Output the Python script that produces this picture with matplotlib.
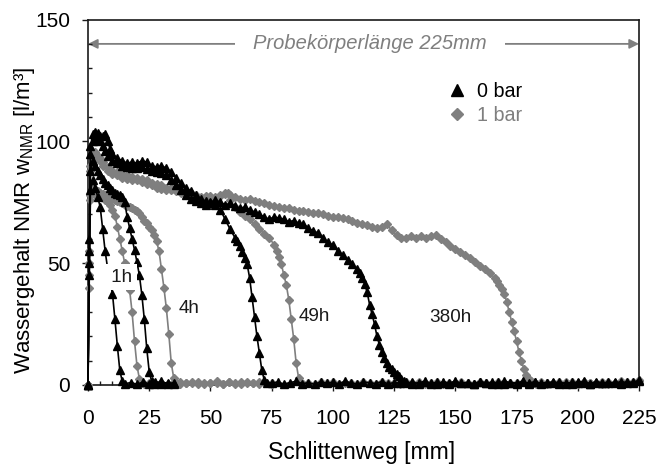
import numpy as np
import matplotlib
matplotlib.use("Agg")
import matplotlib.pyplot as plt
from matplotlib.lines import Line2D
from matplotlib.ticker import MultipleLocator

plt.rcParams['font.family'] = ['Liberation Sans', 'DejaVu Sans']

GRAU = '#7f7f7f'

# Messpositionen auf der Nulllinie (hinter der Feuchtefront) [mm]
x_null = [15, 17.5, 20, 22.5, 25, 27.5, 30, 32.5, 35, 37.5,
          40, 42.5, 45, 47.5, 50, 52.5, 55, 57.5, 60, 62.5,
          65, 67.5, 70, 72.5, 75, 77.5, 80, 82.5, 85, 87.5,
          90, 92.5, 95, 97.5, 100, 102.5, 105, 107.5, 110, 112.5,
          115, 117.5, 120, 122.5, 125, 127.5, 130, 132.5, 135, 137.5,
          140, 142.5, 145, 147.5, 150, 152.5, 155, 157.5, 160, 162.5,
          165, 167.5, 170, 172.5, 175, 177.5, 180, 182.5, 185, 187.5,
          190, 192.5, 195, 197.5, 200, 202.5, 205, 207.5, 210, 212.5,
          215, 217.5, 220, 222.5, 225]

# ---- 0 bar ----
x_0bar_1h = [0, 0.5, 1, 2, 3, 4, 5, 6, 7, 8, 9, 10, 11, 12, 13, 14, 15]
y_0bar_1h = [0, 45, 80, 84, 81, 77, 73, 64, 55, 48, 43, 37.5, 27, 16, 6, 1.5, 0.5]
n_0bar_1h = [1.0, 0.3, 1.2, 0.5, 0.8, 1.5, 0.4, 1.0]

x_0bar_4h = [0, 0.5, 1, 2, 3, 4, 5, 6, 7, 8, 9, 10, 11, 12, 13, 14, 15, 16, 17, 18,
             19, 20, 21, 22, 23, 24, 25, 26, 27]
y_0bar_4h = [0, 50, 88, 92, 90, 88, 86, 84.5, 83, 82, 81, 80, 79, 78.5, 78, 77, 75, 69,
             64.5, 60, 55.5, 50.5, 45, 37, 27, 15, 5.5, 1.5, 0.5]
n_0bar_4h = [1.2, 0.6, 1.0, 0.4]

x_0bar_49h = [0, 0.5, 1, 2, 3, 4, 5, 6, 7, 8, 10, 12, 14, 16, 18, 20, 22, 24, 26, 28,
              30, 32, 34, 36, 38, 40, 42, 44, 46, 48, 50, 52, 54, 56, 58, 60, 61, 62,
              63, 64, 65, 66, 67, 68, 69, 70, 71, 72, 73]
y_0bar_49h = [0, 55, 95, 100, 101.5, 100, 100.5, 98, 96, 94, 92, 91, 90, 89.5, 89, 89,
              89.5, 88.5, 88, 87.5, 87, 86, 84, 82, 80, 78, 76.5, 75.5, 74.5, 74, 74.5,
              74, 72, 68, 64, 60.5, 59, 57, 54.5, 52, 49.5, 44, 36, 28, 20, 13, 6, 2, 1]
n_0bar_49h = [0.8, 1.2, 0.4, 1.0, 1.5, 0.6, 0.9, 0.3, 1.3, 0.7,
              1.1, 0.5, 1.6, 0.8, 0.4, 1.2, 0.9, 0.6, 1.4, 0.5,
              1.0, 0.7, 1.3, 0.4, 0.9, 1.5, 0.6, 1.1, 0.8, 0.3,
              1.2, 0.7, 1.0, 0.5, 1.4, 0.9, 0.6, 1.2, 0.4, 1.0,
              0.8, 1.5, 0.5, 1.1, 0.7, 0.9, 1.3, 0.4, 1.0, 0.6,
              1.2, 0.8, 0.5, 1.4, 0.9, 0.7, 1.1, 0.6, 1.3, 1.0, 2.0]

x_0bar_380h = [0, 0.5, 1, 2, 3, 4, 5, 6, 7, 8, 9, 10,
               12, 14, 16, 18, 20, 22, 24, 26, 28, 30, 32, 34, 36, 38, 40, 42, 44, 46,
               48, 50, 52, 54, 56, 58, 60, 62, 64, 66, 68, 70, 72, 74, 76, 78, 80, 82,
               84, 86, 88, 90, 92, 94, 96, 98, 100, 102, 104, 106, 108, 110,
               111, 112, 113, 114, 115, 116, 117, 118, 119, 120, 121, 122, 123, 124,
               125, 126, 127, 128, 129, 130]
y_0bar_380h = [0, 60, 98, 103, 104, 103.5, 102, 102, 103, 100, 97, 95,
               93, 92, 91, 91.5, 91, 92, 91.5, 90, 89.5, 90, 89, 87.5, 85, 83, 81,
               79.5, 78, 76.5, 75.5, 75, 76, 75, 74, 74.5, 73.5, 72.5, 73, 72, 71, 70,
               69, 68, 69, 68.5, 68, 67, 67.5, 66.5, 66, 64.5, 63, 62.5, 60.5, 58.5,
               57.5, 55, 53.5, 51.5, 49.5, 47.5,
               46, 44, 41.5, 38, 33, 29, 25, 20, 16.5, 13.5, 11, 9, 7.5, 6.5, 5.5, 4.5,
               3.5, 2.5, 1.5, 0.8]
n_0bar_380h = [1.1, 0.6, 1.4, 0.8, 0.5, 1.2, 0.9, 1.5, 0.7, 1.0,
               0.4, 1.3, 0.8, 1.1, 0.6, 1.6, 0.9, 0.5, 1.2, 0.8,
               1.4, 0.6, 1.0, 0.7, 1.3, 0.5, 1.1, 0.9, 1.5, 0.6,
               1.0, 0.8, 1.2, 0.7, 1.4, 0.9, 1.1, 1.6]

# ---- 1 bar ----
x_1bar_1h = [0, 0.5, 1, 2, 3, 4, 5, 6, 7, 8, 9, 10, 11, 12, 13, 14, 15, 16, 17, 18, 19,
             20, 21, 22, 23]
y_1bar_1h = [0, 40, 76, 79, 78, 78, 77, 77, 76, 75, 74, 72, 69.5, 65, 60, 55, 50, 45, 39,
             30, 18, 8, 2.5, 1, 0.5]
n_1bar_1h = [0.8, 0.4, 1.0, 0.6, 1.3, 0.5, 0.9, 0.7, 1.2, 0.4, 1.0, 0.8, 0.5, 1.1, 0.6,
             1.4, 0.7, 0.9, 0.5, 1.0, 0.6]

x_1bar_4h = [0, 0.5, 1, 2, 3, 4, 5, 6, 7, 8, 9, 10, 11, 12, 13, 14, 15, 16, 17, 18, 19,
             20, 21, 22, 23, 24, 25, 26, 27, 28, 29, 30, 31, 32, 33, 34, 35, 36, 37]
y_1bar_4h = [0, 45, 78, 81, 80, 79.5, 79, 78.5, 78, 77.5, 77, 76.5, 76, 75.5, 75, 74.5,
             74, 73.5, 73, 72.5, 72, 71.5, 70.5, 69, 67.5, 66.5, 65, 63.5, 61.5, 59, 55,
             47.5, 40, 31.5, 21, 9, 3, 1, 0.6]
n_1bar_4h = [1.1, 0.7, 1.3, 0.6, 1.0, 0.8, 1.5, 0.5, 1.2, 0.9, 0.6, 1.1, 0.8, 1.3, 0.7, 1.0]

x_1bar_49h = [0, 0.5, 1, 2, 3, 4, 5, 6, 8, 10, 12, 14, 16, 18, 20, 22, 24, 26, 28, 30,
              32, 34, 36, 38, 40, 42, 44, 46, 48, 50, 52, 54, 56, 57, 58, 60, 62, 64,
              66, 68, 70, 72, 74, 76, 77, 78, 79, 80, 81, 82, 83, 84, 85, 86, 87, 88]
y_1bar_49h = [0, 50, 88, 93, 94, 93, 92, 90, 88, 86.5, 86, 85, 84.5, 84, 84, 83.5, 82.5,
              82, 81, 80.5, 80, 80, 79.5, 79, 78.5, 78, 77, 76, 76.5, 77, 76.5, 77.5,
              78.5, 79, 76, 73, 71, 69.5, 68, 66, 64, 62, 60.5, 57.5, 55, 52.5, 49.5,
              45, 41, 35, 27, 19, 9, 3, 1, 0.5]
n_1bar_49h = [0.9, 0.5, 1.1, 0.7, 1.3, 0.6, 1.0, 0.8, 0.4, 1.2,
              0.9, 0.6, 1.4, 0.7, 1.0, 0.5, 1.1, 0.8, 1.3, 0.6,
              0.9, 1.2, 0.5, 1.0, 0.7, 1.4, 0.8, 0.6, 1.1, 0.9,
              0.5, 1.2, 0.7, 1.0, 0.8, 1.3, 0.6, 0.9, 1.1, 0.5,
              1.0, 0.7, 1.2, 0.8, 0.6, 1.3, 0.9, 0.7, 1.1, 0.5,
              1.0, 0.8, 1.2, 0.9, 1.8]

x_1bar_380h = [0, 0.5, 1, 2, 3, 4, 5, 6,
               8, 10, 12, 14, 16, 18, 20, 22, 24, 26, 28, 30, 32, 34, 36, 38, 40, 42,
               44, 46, 48, 50, 52, 54, 56, 58, 60, 62, 64, 66, 68, 70, 72, 74, 76, 78,
               80, 82, 84, 86, 88, 90, 92, 94, 96, 98, 100, 102, 104, 106, 108, 110,
               112, 114, 116, 118, 120, 122, 124, 126, 128, 130, 132, 134, 136, 138,
               140, 142, 144, 146, 148, 150, 152, 154, 156, 158, 160, 162, 164, 166,
               167, 168, 169, 170, 171, 172, 173, 174, 175, 176, 177, 178, 179, 180,
               181, 182, 183]
y_1bar_380h = [0, 55, 90, 95, 95.5, 94, 93, 91.5,
               89.5, 88, 87.5, 86.5, 86, 85.5, 85, 84.5, 84, 83,
               82.5, 82, 81, 81, 80.5, 80, 79.5, 79, 78, 77,
               77.5, 77.5, 77, 78, 79, 78, 77, 76.5, 76, 76.5,
               75.5, 75, 74.5, 74, 73.5, 73, 72.5, 72.5, 72, 71.5,
               71.5, 71, 70.5, 70.5, 70, 69.5, 69, 69, 68.5, 68,
               67.5, 66.5, 66, 65.5, 65, 64.5, 65, 66, 63.5, 61.5,
               60.5, 60.5, 61, 60.5, 61, 60.5, 61, 61.5, 60, 58.5,
               57, 56, 54.5, 53.5, 52, 50.5, 49, 47.5, 46, 44,
               42.5, 41, 39.5, 37.5, 34, 30, 26, 22, 18, 13.5, 10, 6.5, 4, 2.5,
               1.5, 1, 0.5]
n_1bar_380h = [0.6, 1.0, 0.8, 1.3, 0.5, 1.1, 0.9, 1.4, 0.7, 1.0, 0.6, 1.2, 0.9, 1.5,
               0.8, 1.2, 2.2]

# Beschriftungen der Kurvenpaare
zeit_labels = ['4h', '49h', '380h']
zeit_x = [41.1, 92.5, 148.1]
zeit_y = [31.4, 28.1, 27.7]


def kurve(ax, x, y, null, farbe, marker, ms):
    # Front + Nulllinie zu einer Kurve zusammensetzen
    i0 = int(np.searchsorted(x_null, x[-1], side='right'))
    xs = list(x) + x_null[i0:i0 + len(null)]
    ys = list(y) + list(null)
    ax.plot(xs, ys, color=farbe, marker=marker, ms=ms, mec=farbe, mfc=farbe,
            mew=1.0, lw=1.2, clip_on=False, zorder=3)


fig = plt.figure(figsize=(6.68, 4.67), dpi=100)
ax = fig.add_axes([0.1317, 0.1756, 0.8249, 0.7826])

# erst 1 bar (grau), dann 0 bar (schwarz)
for x, y, n in [(x_1bar_1h, y_1bar_1h, n_1bar_1h), (x_1bar_4h, y_1bar_4h, n_1bar_4h),
                (x_1bar_49h, y_1bar_49h, n_1bar_49h), (x_1bar_380h, y_1bar_380h, n_1bar_380h)]:
    kurve(ax, x, y, n, GRAU, 'D', 3.6)
for x, y, n in [(x_0bar_1h, y_0bar_1h, n_0bar_1h), (x_0bar_4h, y_0bar_4h, n_0bar_4h),
                (x_0bar_49h, y_0bar_49h, n_0bar_49h), (x_0bar_380h, y_0bar_380h, n_0bar_380h)]:
    kurve(ax, x, y, n, 'black', '^', 5.8)

ax.set_xlim(0, 225)
ax.set_ylim(0, 150)
ax.xaxis.set_major_locator(MultipleLocator(25))
ax.xaxis.set_minor_locator(MultipleLocator(5))
ax.yaxis.set_major_locator(MultipleLocator(50))
ax.yaxis.set_minor_locator(MultipleLocator(10))
ax.tick_params(which='major', direction='out', width=1, labelsize=15, color='#1a1a1a')
ax.tick_params(axis='x', which='major', length=4, pad=13.5)
ax.tick_params(axis='y', which='major', length=4.3, pad=8.5)
ax.tick_params(which='minor', direction='in', length=3, width=1, color='#1a1a1a')
for s in ax.spines.values():
    s.set_linewidth(1.2)
    s.set_color('#1a1a1a')

ax.set_xlabel('Schlittenweg [mm]', fontsize=16.5)
ax.xaxis.set_label_coords(0.496, -0.153)
ax.set_ylabel('Wassergehalt NMR w$_\\mathregular{NMR}$ [l/m³]', fontsize=16)
ax.yaxis.set_label_coords(-0.0917, 0.451)

# Probekoerperlaenge
ax.annotate('', xy=(0, 140), xytext=(225, 140),
            arrowprops=dict(arrowstyle='<|-|>', color=GRAU, lw=1.3,
                            shrinkA=0, shrinkB=0, mutation_scale=14), zorder=1.5)
ax.text(115.2, 140, 'Probekörperlänge 225mm', ha='center', va='center',
        style='italic', color=GRAU, fontsize=14.5, zorder=2,
        bbox=dict(boxstyle='square,pad=0.9', fc='white', ec='none'))

# Zeitbeschriftungen
ax.text(18.0, 44.3, ' 1h', ha='right', va='center', fontsize=13.6, color='#1a1a1a',
        zorder=4, bbox=dict(boxstyle='square,pad=0.25', fc='white', ec='none'))
for lab, xt, yt in zip(zeit_labels, zeit_x, zeit_y):
    ax.text(xt, yt, lab, ha='center', va='center', fontsize=13.6, color='#1a1a1a', zorder=4)

h0 = Line2D([], [], color='black', marker='^', ls='none', ms=8.5)
h1 = Line2D([], [], color=GRAU, marker='D', ls='none', ms=6.5)
ax.legend([h0, h1], ['0 bar', '1 bar'], loc='upper left', bbox_to_anchor=(0.6515, 0.828),
          frameon=False, fontsize=14.2, handlelength=1.0, handletextpad=0.5,
          borderpad=0, borderaxespad=0, labelspacing=0.25, labelcolor=['black', GRAU])

fig.savefig('out.png', dpi=100)
